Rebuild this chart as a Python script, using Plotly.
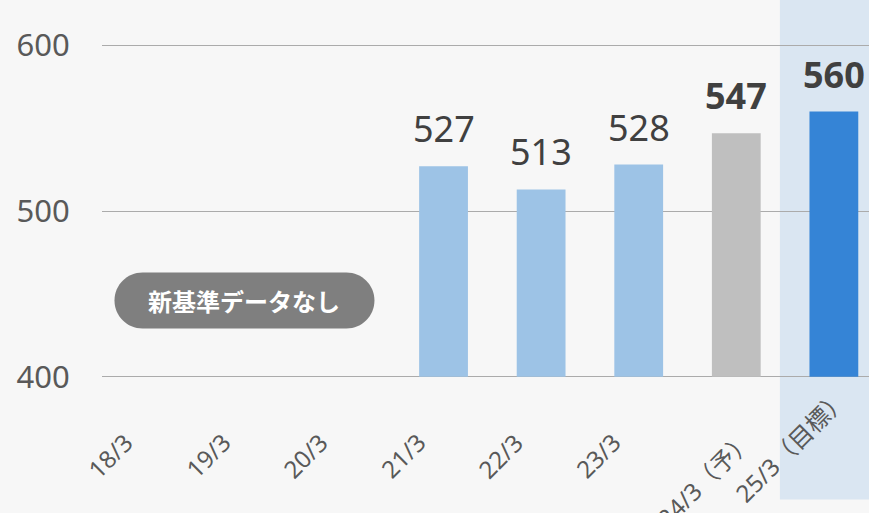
import plotly.graph_objects as go

categories = ["18/3", "19/3", "20/3", "21/3", "22/3", "23/3", "24/3（予）", "25/3（目標）"]
values = [None, None, None, 527, 513, 528, 547, 560]
bar_colors = ["#9DC3E6", "#9DC3E6", "#9DC3E6", "#9DC3E6", "#9DC3E6", "#9DC3E6", "#BFBFBF", "#3584D6"]
label_bold = [False, False, False, False, False, False, True, True]
y_ticks = [400, 500, 600]
note_text = "新基準データなし"

FONT = "Noto Sans, Noto Sans CJK JP, sans-serif"
BG = "#F7F7F7"
BASE = y_ticks[0]

# pixel offsets of the rotated category labels (layout tuning only)
LABEL_SHIFT = {"default": (-10, -48), 6: (25, -46), 7: (22, -4)}

fig = go.Figure()
fig.add_trace(go.Bar(
    x=list(range(len(categories))),
    y=[None if v is None else v - BASE for v in values],
    base=BASE,
    marker=dict(color=bar_colors, line=dict(width=0)),
    width=0.5, hoverinfo="skip",
))

# value labels
for i, v in enumerate(values):
    if v is None:
        continue
    txt = f"<b>{v}</b>" if label_bold[i] else str(v)
    fig.add_annotation(x=i, y=v, text=txt, showarrow=False, yanchor="bottom",
                       yshift=11, font=dict(family=FONT, size=36, color="#404040"))

# rotated category labels
for i, c in enumerate(categories):
    dx, dy = LABEL_SHIFT.get(i, LABEL_SHIFT["default"])
    fig.add_annotation(x=i, y=BASE, xref="x", yref="y", text=c, showarrow=False,
                       textangle=-45, xanchor="right", yanchor="top",
                       xshift=dx, yshift=dy, borderpad=0,
                       font=dict(family=FONT, size=24, color="#595959"))

# highlight of target year
fig.add_shape(type="rect", xref="x", yref="paper", x0=6.447, x1=7.8, y0=-0.3535, y1=1.3,
              fillcolor="#DAE6F2", line=dict(width=0), layer="below")

# pill note
px, py = 0.96, 446
fig.add_shape(type="path", xref="x", yref="y", xsizemode="pixel", ysizemode="pixel",
              xanchor=px, yanchor=py,
              path=("M -102,-28 L 102,-28 C 117.5,-28 130,-15.5 130,0 C 130,15.5 117.5,28 102,28 "
                    "L -102,28 C -117.5,28 -130,15.5 -130,0 C -130,-15.5 -117.5,-28 -102,-28 Z"),
              fillcolor="#7F7F7F", line=dict(width=0), layer="above")
fig.add_annotation(x=px, y=py, text=f"<b>{note_text}</b>", showarrow=False,
                   font=dict(family="Noto Sans CJK JP", size=24, color="white"))

fig.update_layout(
    width=869, height=513,
    margin=dict(l=102, r=0, t=42, b=133, pad=0),
    paper_bgcolor=BG, plot_bgcolor="rgba(0,0,0,0)",
    showlegend=False,
    xaxis=dict(range=[-0.5, 7.36], showticklabels=False, showgrid=False, zeroline=False,
               ticks=""),
    yaxis=dict(range=[398, 602], tickmode="array", tickvals=y_ticks,
               showgrid=True, gridcolor="#ABABAB", gridwidth=1, zeroline=False,
               ticks="outside", ticklen=25, tickcolor="rgba(0,0,0,0)",
               tickfont=dict(family=FONT, size=31, color="#595959")),
)

fig.write_html("out.html", config={"displayModeBar": False},
               post_script="document.body.style.margin='0px';")
